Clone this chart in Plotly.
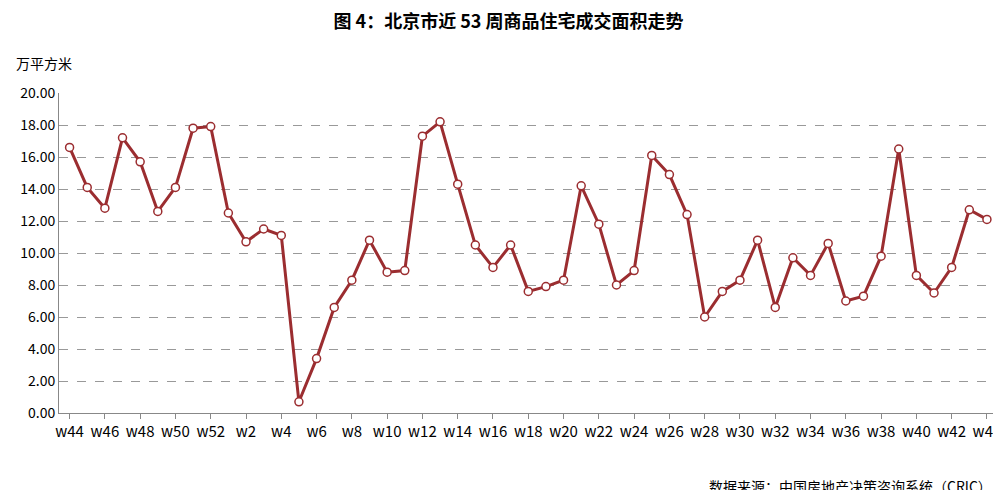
import plotly.graph_objects as go

weeks = [f"w{i}" for i in range(44, 53)] + [f"w{i}" for i in range(1, 45)]
values = [16.6, 14.1, 12.8, 17.2, 15.7, 12.6, 14.1, 17.8, 17.9, 12.5,
          10.7, 11.5, 11.1, 0.7, 3.4, 6.6, 8.3, 10.8, 8.8, 8.9,
          17.3, 18.2, 14.3, 10.5, 9.1, 10.5, 7.6, 7.9, 8.3, 14.2,
          11.8, 8.0, 8.9, 16.1, 14.9, 12.4, 6.0, 7.6, 8.3, 10.8,
          6.6, 9.7, 8.6, 10.6, 7.0, 7.3, 9.8, 16.5, 8.6, 7.5,
          9.1, 12.7, 12.1]
idx = list(range(len(weeks)))
tickvals = idx[::2]
ticktext = weeks[::2]

font = "Noto Sans CJK SC"
fig = go.Figure(go.Scatter(
    x=idx, y=values, mode="lines+markers",
    line=dict(color="#9B2D30", width=3),
    marker=dict(size=8, color="white", line=dict(color="#9B2D30", width=1.5)),
))
fig.update_layout(
    width=1001, height=490, plot_bgcolor="white", paper_bgcolor="white",
    margin=dict(l=51, r=8, t=85, b=85), showlegend=False,
    font=dict(family=font, size=14, color="#000"),
    title=dict(text="<b>图 4：北京市近 53 周商品住宅成交面积走势</b>", x=0.5, xanchor="center",
               y=0.985, yanchor="top", font=dict(size=18)),
    xaxis=dict(range=[-0.6, 52.4], tickvals=tickvals, ticktext=ticktext, showgrid=False,
               showline=True, linecolor="#888", ticks="outside", tickcolor="#888", ticklen=5,
               tickfont=dict(size=15)),
    yaxis=dict(range=[0, 20], dtick=2, tickformat=".2f", showgrid=True, gridcolor="#999",
               griddash="dash", showline=True, linecolor="#888", zeroline=False,
               tickfont=dict(size=14)),
    annotations=[
        dict(text="万平方米", xref="paper", yref="paper", x=-0.048, y=1.13, xanchor="left",
             showarrow=False, font=dict(size=14)),
        dict(text="数据来源：中国房地产决策咨询系统（CRIC）", xref="paper", yref="paper",
             x=1.0, y=-0.19, xanchor="right", yanchor="top", showarrow=False, font=dict(size=14)),
    ],
)
fig.write_html("out.html")
